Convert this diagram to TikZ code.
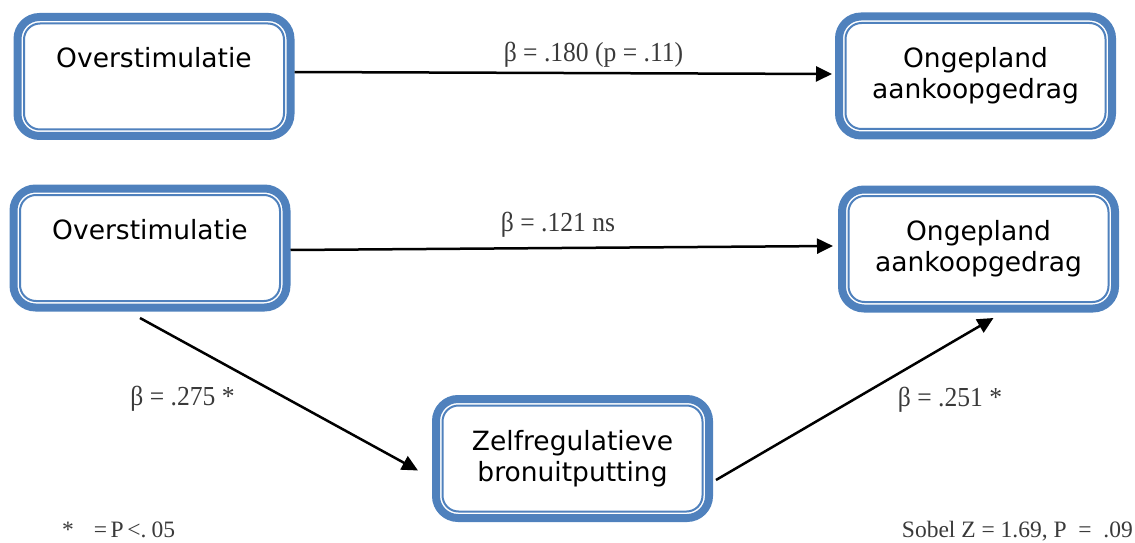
\documentclass[tikz,border=0pt]{standalone}
\usepackage{fontspec}
\setmainfont{DejaVu Sans}
\newfontfamily\serifl{Liberation Serif}
\newfontfamily\seriflc[FakeStretch=0.93]{Liberation Serif}
\usetikzlibrary{arrows.meta}
\definecolor{boxblue}{HTML}{4F81BD}
\definecolor{lblgray}{HTML}{3A3A3A}
\tikzset{
  mbox/.style={draw=boxblue, line width=8pt, rounded corners=22pt,
    minimum width=273pt, minimum height=119pt, inner sep=0pt, fill=white,
    path picture={\draw[boxblue, line width=2pt, rounded corners=16pt]
      ([shift={(6.5pt,-6.5pt)}]path picture bounding box.north west) rectangle
      ([shift={(-6.5pt,6.5pt)}]path picture bounding box.south east);}},
  btxt/.style={font=\fontsize{26.5}{31}\selectfont, align=center, anchor=base, inner sep=0pt},
  lbl/.style={font=\seriflc\fontsize{27.5}{31}\selectfont, text=lblgray, anchor=base, inner sep=0pt},
  foot/.style={font=\serifl\fontsize{23.5}{27}\selectfont, text=lblgray, inner sep=0pt},
  conn/.style={line width=2.5pt, -{Triangle[length=16pt,width=15pt]}},
}
\begin{document}
\begin{tikzpicture}[x=1pt,y=1pt]
\useasboundingbox (0,0) rectangle (1135,542);
% boxes
\node[mbox] (b1) at (154,465.5) {};
\node[mbox] (b2) at (975.5,466) {};
\node[mbox] (b3) at (150,294) {};
\node[mbox] (b4) at (978.5,293) {};
\node[mbox] (b5) at (572.5,83.5) {};
% box texts
\node[btxt] (t1) at ([yshift=8.5pt]b1.center) {Overstimulatie};
\node[btxt] (t2) at ([yshift=-22.5pt]b2.center) {Ongepland\\aankoopgedrag};
\node[btxt] (t3) at ([yshift=8.5pt]b3.center) {Overstimulatie};
\node[btxt] (t4) at ([yshift=-22.5pt]b4.center) {Ongepland\\aankoopgedrag};
\node[btxt] (t5) at ([yshift=-22.5pt]b5.center) {Zelfregulatieve\\bronuitputting};
% connectors
\draw[conn] ([yshift=4.5pt]b1.east) -- ([xshift=-3pt,yshift=2pt]b2.west);
\draw[conn] ([yshift=-2pt]b3.east) -- ([xshift=-5pt,yshift=3pt]b4.west);
\draw[conn] ([xshift=-10pt,yshift=-6.5pt]b3.south) -- ([xshift=-14pt,yshift=-12pt]b5.west);
\draw[conn] ([xshift=3pt,yshift=-21.5pt]b5.east) -- ([xshift=15pt,yshift=-5.5pt]b4.south);
% labels
\node[lbl] (l1) at (593.5,480) {β = .180 (p = .11)};
\node[lbl] (l2) at (558,311) {β = .121 ns};
\node[lbl] (l3) at (182.5,137) {β = .275 *};
\node[lbl] (l4) at (950,136) {β = .251 *};
\node[foot, anchor=base west] (f1) at (62,5) {*\hspace{0.85em}=\hspace{0.15em}P\hspace{0.15em}<.\hspace{0.22em}05};
\node[foot, anchor=base east] (f2) at (1133,5) {Sobel Z = 1.69, P\ \ =\ \ .09};
\end{tikzpicture}
\end{document}
